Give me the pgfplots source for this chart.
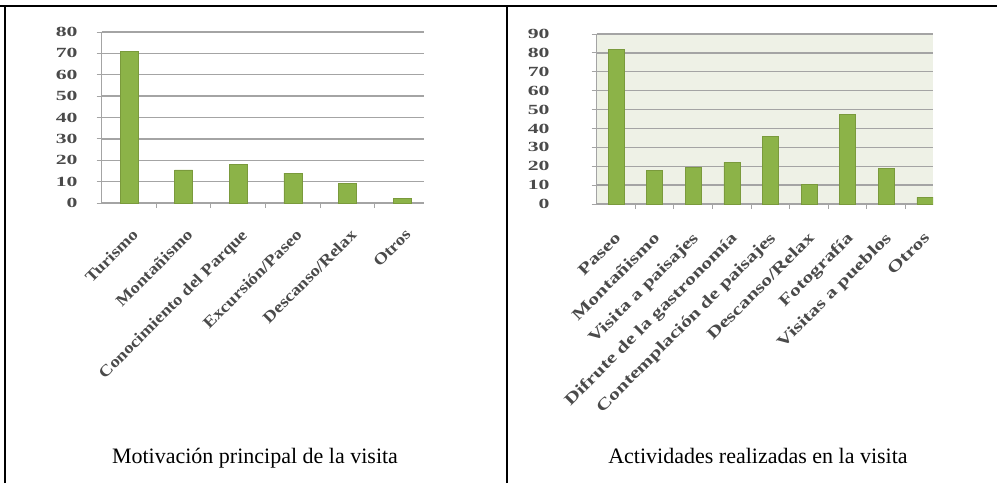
\documentclass[border=0pt]{standalone}
\usepackage{pgfplots}
\pgfplotsset{compat=1.18}
\usepackage{fontspec}
\setmainfont{Liberation Serif}
\usepackage{graphicx}
\definecolor{barc}{HTML}{8CB348}
\definecolor{barline}{HTML}{7A9A3C}
\definecolor{gridc}{HTML}{A4A4A4}
\definecolor{bgc}{HTML}{EEF1E6}
\definecolor{labc}{HTML}{4A4A4A}
\newcommand\hlA[1]{\scalebox{1.17}[1]{#1}}
\newcommand\hlB[1]{\scalebox{1.35}[1]{#1}}
\pgfplotsset{
  mychart/.style={
    scale only axis,
    ymin=0,
    axis x line*=bottom,
    axis y line*=left,
    axis line style={gridc, line width=1.2pt},
    ymajorgrids,
    grid style={gridc, line width=1.3pt},
    tick style={gridc, line width=1pt},
    tick align=outside,
    major tick length=5pt,
    xticklabels={},
    ticklabel style={font=\fontsize{14}{14}\selectfont\bfseries, text=labc},
    yticklabel style={anchor=east, inner sep=0pt, xshift=-19pt},
    yticklabel={\scalebox{1.55}[1]{\pgfmathprintnumber[assume math mode=true]{\tick}}},
  }
}
\begin{document}
\begin{tikzpicture}
\useasboundingbox (0pt,0pt) rectangle (997pt,483pt);
\draw[line width=2pt] (0pt,477pt) -- (997pt,477pt);
\draw[line width=2pt] (5pt,0pt) -- (5pt,477pt);
\draw[line width=2pt] (507pt,0pt) -- (507pt,477pt);

\begin{axis}[mychart,
  at={(101.7pt,280pt)}, anchor=south west,
  width=322.3pt, height=171pt,
  xmin=-0.5, xmax=5.4,
  ymax=80, ytick={0,10,...,80},
  xtick={0.5,1.5,2.5,3.5,4.5},
  extra x ticks={0,1,2,3,4,5},
  extra x tick style={major tick length=0pt, tick label style={font=\fontsize{16}{16}\selectfont\bfseries, xshift=2pt, yshift=-25pt, rotate=45, anchor=north east, inner sep=0pt}},
  extra x tick labels={\hlA{Turismo},\hlA{Montañismo},\hlA{Conocimiento del Parque},\hlA{Excursión/Paseo},\hlA{Descanso/Relax},\hlA{Otros}},
]
\addplot[ybar, bar width=18pt, fill=barc, draw=barline, line width=0.6pt] coordinates {(0,71) (1,15.5) (2,18) (3,14) (4,9) (5,2)};
\end{axis}

\begin{axis}[mychart,
  at={(596.7pt,279pt)}, anchor=south west,
  width=336.3pt, height=170pt,
  xmin=-0.5, xmax=8.21,
  ymax=90, ytick={0,10,...,90},
  yticklabel style={xshift=-23pt},
  axis background/.style={fill=bgc},
  xtick={0.5,1.5,2.5,3.5,4.5,5.5,6.5,7.5},
  extra x ticks={0,1,2,3,4,5,6,7,8},
  extra x tick style={major tick length=0pt, tick label style={font=\fontsize{16}{16}\selectfont\bfseries, xshift=-2pt, yshift=-27pt, rotate=45, anchor=north east, inner sep=0pt}},
  extra x tick labels={\hlB{Paseo},\hlB{Montañismo},\hlB{Visita a paisajes},\hlB{Difrute de la gastronomía},\hlB{Contemplación de paisajes},\hlB{Descanso/Relax},\hlB{Fotografía},\hlB{Visitas a pueblos},\hlB{Otros}},
]
\addplot[ybar, bar width=16pt, fill=barc, draw=barline, line width=0.6pt] coordinates {(0,82) (1,18) (2,19.5) (3,22) (4,36) (5,10.5) (6,47.5) (7,19) (8,3.5)};
\end{axis}

\node[anchor=base] at (255pt,20pt) {\fontsize{22}{22}\selectfont Motivación principal de la visita};
\node[anchor=base] at (758pt,20pt) {\fontsize{22}{22}\selectfont Actividades realizadas en la visita};
\end{tikzpicture}
\end{document}
